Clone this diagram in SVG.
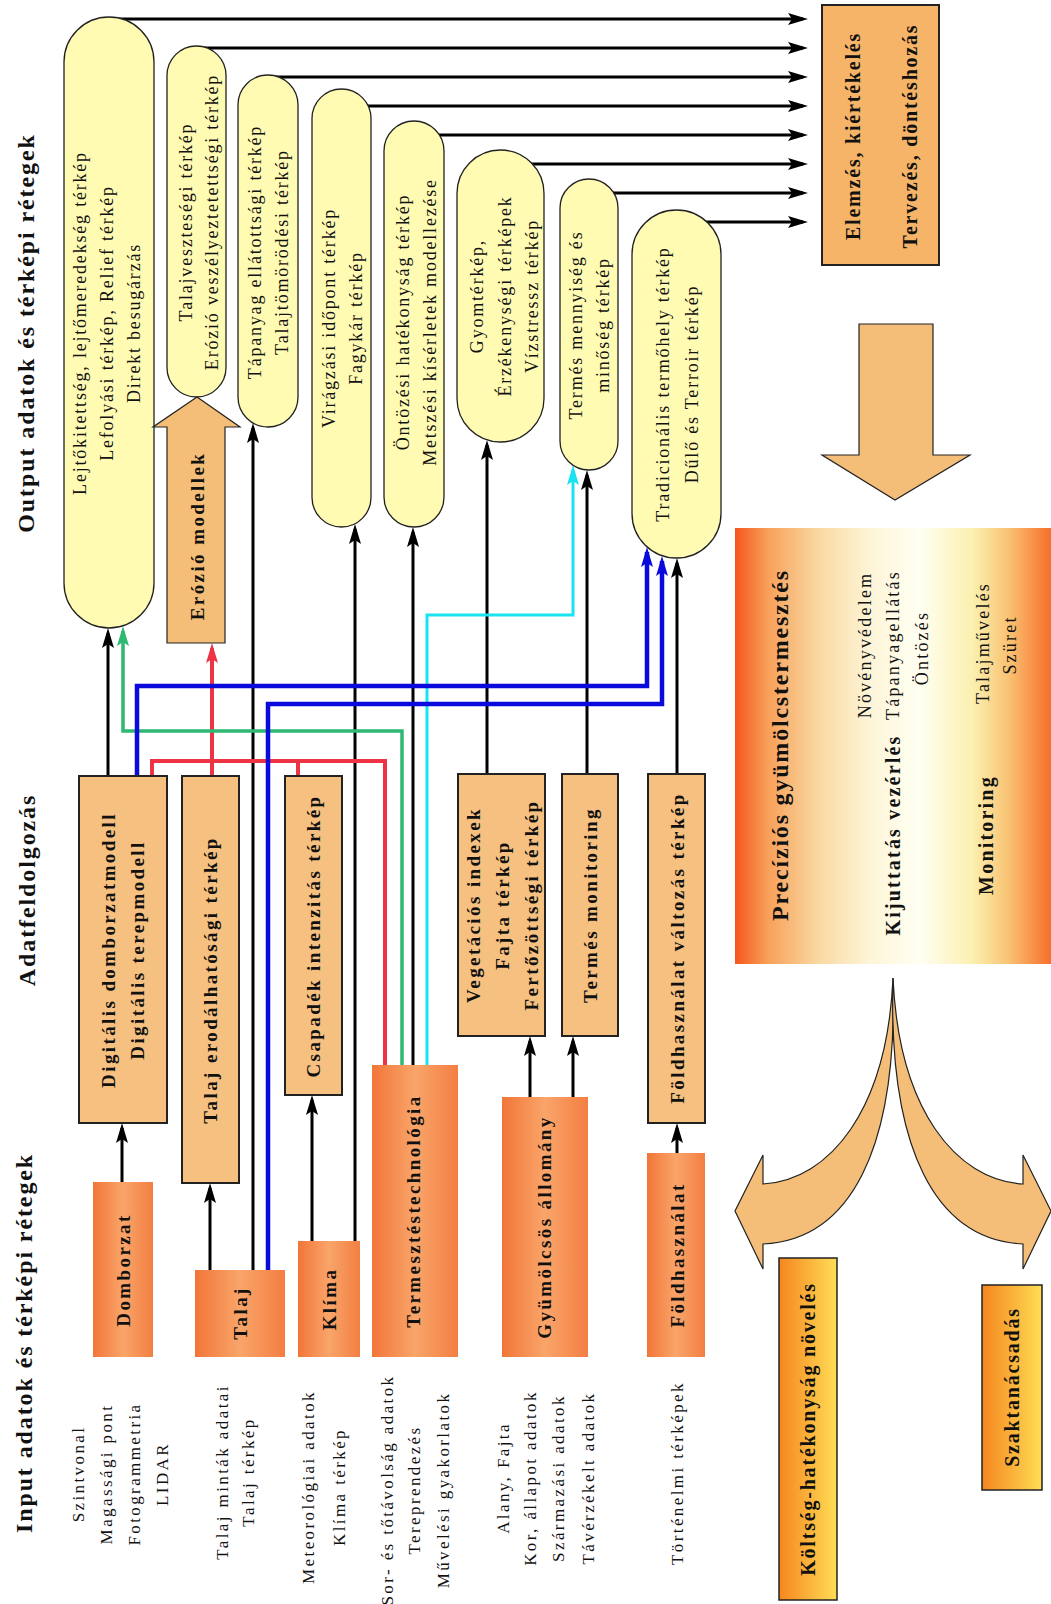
<svg xmlns="http://www.w3.org/2000/svg" width="1051" height="1604" viewBox="0 0 1051 1604">
<defs>
  <linearGradient id="gIn" x1="0" y1="0" x2="1" y2="0">
    <stop offset="0" stop-color="#F27538"/>
    <stop offset="0.5" stop-color="#F9A56A"/>
    <stop offset="1" stop-color="#F37E42"/>
  </linearGradient>
  <linearGradient id="gPrec" x1="0" y1="0" x2="1" y2="0">
    <stop offset="0" stop-color="#F4561C"/>
    <stop offset="0.1" stop-color="#F8A05A"/>
    <stop offset="0.25" stop-color="#F9D8A0"/>
    <stop offset="0.41" stop-color="#FDF5D8"/>
    <stop offset="0.56" stop-color="#FFFFF2"/>
    <stop offset="0.72" stop-color="#FBF0B0"/>
    <stop offset="0.83" stop-color="#F9C272"/>
    <stop offset="0.93" stop-color="#F7803A"/>
    <stop offset="1" stop-color="#F4561C"/>
  </linearGradient>
  <linearGradient id="gGoal" x1="0" y1="0" x2="1" y2="0">
    <stop offset="0" stop-color="#F5861F"/>
    <stop offset="1" stop-color="#FFDD55"/>
  </linearGradient>
  <marker id="ahK" viewBox="0 0 20 12" refX="15" refY="6" markerWidth="20" markerHeight="12" markerUnits="userSpaceOnUse" orient="auto"><path d="M0,0 L20,6 L0,12 L4,6Z" fill="#000"/></marker>
  <marker id="ahB" viewBox="0 0 20 12" refX="15" refY="6" markerWidth="20" markerHeight="13" markerUnits="userSpaceOnUse" orient="auto"><path d="M0,0 L20,6 L0,12 L4,6Z" fill="#0A0ADC"/></marker>
  <marker id="ahG" viewBox="0 0 20 12" refX="15" refY="6" markerWidth="20" markerHeight="12" markerUnits="userSpaceOnUse" orient="auto"><path d="M0,0 L20,6 L0,12 L4,6Z" fill="#2EB872"/></marker>
  <marker id="ahR" viewBox="0 0 20 12" refX="15" refY="6" markerWidth="20" markerHeight="12" markerUnits="userSpaceOnUse" orient="auto"><path d="M0,0 L20,6 L0,12 L4,6Z" fill="#EE3344"/></marker>
  <marker id="ahC" viewBox="0 0 20 12" refX="15" refY="6" markerWidth="20" markerHeight="12" markerUnits="userSpaceOnUse" orient="auto"><path d="M0,0 L20,6 L0,12 L4,6Z" fill="#19E3F0"/></marker>
</defs>
<style>
  text { font-family: "Liberation Serif", "Times New Roman", serif; fill: #111; text-anchor: middle; dominant-baseline: central; }
  .ti { font-size: 24px; font-weight: bold; letter-spacing: 1.9px; }
  .ct { font-size: 18px; letter-spacing: 1.8px; }
  .bt { font-size: 19px; font-weight: bold; letter-spacing: 2.4px; }
  .lt { font-size: 17px; letter-spacing: 2.4px; }
  .pt { font-size: 24px; font-weight: bold; letter-spacing: 1.8px; }
  .ps { font-size: 20px; font-weight: bold; letter-spacing: 2.2px; }
  .pn { font-size: 18px; letter-spacing: 2.2px; }
  .et { font-size: 20px; font-weight: bold; letter-spacing: 1.8px; }
  .cap { fill: #FFFBB3; stroke: #222; stroke-width: 1.3; }
  .proc { fill: #F6C080; stroke: #222; stroke-width: 2; }
  .inp { fill: url(#gIn); }
  .goal { fill: url(#gGoal); stroke: #222; stroke-width: 1.5; }
  .blk { fill: #F5BE78; stroke: #222; stroke-width: 1.2; }
  .k { fill: none; stroke: #000; stroke-width: 3; marker-end: url(#ahK); }
  .kl { fill: none; stroke: #000; stroke-width: 3; }
  .b { fill: none; stroke: #0A0ADC; stroke-width: 4.5; marker-end: url(#ahB); }
  .g { fill: none; stroke: #2EB872; stroke-width: 3.5; marker-end: url(#ahG); }
  .r { fill: none; stroke: #EE3344; stroke-width: 4; }
  .ra { fill: none; stroke: #EE3344; stroke-width: 4; marker-end: url(#ahR); }
  .c { fill: none; stroke: #19E3F0; stroke-width: 3; marker-end: url(#ahC); }
</style>

<!-- column headings -->
<g id="headings">
  <text class="ti" transform="translate(26 333) rotate(-90)">Output adatok és térképi rétegek</text>
  <text class="ti" transform="translate(27 890) rotate(-90)">Adatfeldolgozás</text>
  <text class="ti" transform="translate(24 1343) rotate(-90)">Input adatok és térképi rétegek</text>
</g>

<!-- source descriptions -->
<g id="sources">
  <text class="lt" transform="translate(78 1474) rotate(-90)">Szintvonal</text>
  <text class="lt" transform="translate(106 1474) rotate(-90)">Magassági pont</text>
  <text class="lt" transform="translate(134 1474) rotate(-90)">Fotogrammetria</text>
  <text class="lt" transform="translate(162 1474) rotate(-90)">LIDAR</text>
  <text class="lt" transform="translate(222 1472) rotate(-90)">Talaj minták adatai</text>
  <text class="lt" transform="translate(248 1472) rotate(-90)">Talaj térkép</text>
  <text class="lt" transform="translate(308 1487) rotate(-90)">Meteorológiai adatok</text>
  <text class="lt" transform="translate(339 1487) rotate(-90)">Klíma térkép</text>
  <text class="lt" transform="translate(387 1490) rotate(-90)">Sor- és tőtávolság adatok</text>
  <text class="lt" transform="translate(414 1490) rotate(-90)">Tereprendezés</text>
  <text class="lt" transform="translate(443 1490) rotate(-90)">Művelési gyakorlatok</text>
  <text class="lt" transform="translate(503 1478) rotate(-90)">Alany, Fajta</text>
  <text class="lt" transform="translate(530 1478) rotate(-90)">Kor, állapot adatok</text>
  <text class="lt" transform="translate(558 1478) rotate(-90)">Származási adatok</text>
  <text class="lt" transform="translate(588 1478) rotate(-90)">Távérzékelt adatok</text>
  <text class="lt" transform="translate(677 1473) rotate(-90)">Történelmi térképek</text>
</g>

<!-- connectors -->
<g id="connectors">
  <!-- outputs to analysis -->
  <path class="k" d="M109,19 H803"/>
  <path class="k" d="M197,48 H803"/>
  <path class="k" d="M268,77 H803"/>
  <path class="k" d="M341,106 H803"/>
  <path class="k" d="M414,135 H803"/>
  <path class="k" d="M500,164 H803"/>
  <path class="k" d="M589,193 H803"/>
  <path class="k" d="M676,222 H803"/>
  <!-- processing to outputs -->
  <path class="k" d="M108,776 V633"/>
  <path class="k" d="M253,1270 V428"/>
  <path class="k" d="M355,1241 V529"/>
  <path class="k" d="M413,1065 V532"/>
  <path class="k" d="M487,774 V445"/>
  <path class="k" d="M587,774 V475"/>
  <path class="k" d="M677,774 V563"/>
  <!-- inputs to processing -->
  <path class="k" d="M122,1182 V1128"/>
  <path class="k" d="M210,1270 V1188"/>
  <path class="k" d="M312,1241 V1100"/>
  <path class="k" d="M530,1097 V1041"/>
  <path class="k" d="M573,1097 V1041"/>
  <path class="k" d="M677,1153 V1128"/>
  <!-- coloured links -->
  <path class="r" d="M152,776 V761 H385 V1065"/>
  <path class="r" d="M298,761 V776"/>
  <path class="ra" d="M212,776 V648"/>
  <path class="g" d="M402,1065 V731 H123 V631"/>
  <path class="c" d="M427,1065 V615 H573 V470"/>
  <path class="b" d="M137,776 V686 H647 V552"/>
  <path class="b" d="M268,1270 V704 H662 V561"/>
</g>

<!-- output layers -->
<g id="out-lejto">
  <rect class="cap" x="64" y="17" width="90" height="611" rx="45"/>
  <text class="ct" transform="translate(80 323) rotate(-90)">Lejtőkitettség, lejtőmeredekség térkép</text>
  <text class="ct" transform="translate(107 323) rotate(-90)">Lefolyási térkép, Relief térkép</text>
  <text class="ct" transform="translate(134 323) rotate(-90)">Direkt besugárzás</text>
</g>
<g id="out-erozio">
  <rect class="cap" x="167" y="46" width="59" height="351" rx="29.5"/>
  <text class="ct" transform="translate(186 222) rotate(-90)">Talajveszteségi térkép</text>
  <text class="ct" transform="translate(212 222) rotate(-90)">Erózió veszélyeztetettségi térkép</text>
</g>
<g id="out-tapanyag">
  <rect class="cap" x="238" y="75" width="60" height="352" rx="30"/>
  <text class="ct" transform="translate(255 252) rotate(-90)">Tápanyag ellátottsági térkép</text>
  <text class="ct" transform="translate(282 252) rotate(-90)">Talajtömörödési térkép</text>
</g>
<g id="out-viragzas">
  <rect class="cap" x="312" y="89" width="59" height="438" rx="29.5"/>
  <text class="ct" transform="translate(329 318) rotate(-90)">Virágzási időpont térkép</text>
  <text class="ct" transform="translate(356 318) rotate(-90)">Fagykár térkép</text>
</g>
<g id="out-ontozes">
  <rect class="cap" x="384" y="121" width="60" height="406" rx="30"/>
  <text class="ct" transform="translate(403 322) rotate(-90)">Öntözési hatékonyság térkép</text>
  <text class="ct" transform="translate(430 322) rotate(-90)">Metszési kísérletek modellezése</text>
</g>
<g id="out-gyom">
  <rect class="cap" x="457" y="150" width="87" height="292" rx="43.5"/>
  <text class="ct" transform="translate(477 296) rotate(-90)">Gyomtérkép,</text>
  <text class="ct" transform="translate(505 296) rotate(-90)">Érzékenységi térképek</text>
  <text class="ct" transform="translate(532 296) rotate(-90)">Vízstressz térkép</text>
</g>
<g id="out-termes">
  <rect class="cap" x="560" y="179" width="58" height="291" rx="29"/>
  <text class="ct" transform="translate(576 325) rotate(-90)">Termés mennyiség és</text>
  <text class="ct" transform="translate(603 325) rotate(-90)">minőség térkép</text>
</g>
<g id="out-tradicio">
  <rect class="cap" x="632" y="210" width="89" height="348" rx="44.5"/>
  <text class="ct" transform="translate(663 384) rotate(-90)">Tradicionális termőhely térkép</text>
  <text class="ct" transform="translate(692 384) rotate(-90)">Dűlő és Terroir térkép</text>
</g>

<!-- erosion model block arrow -->
<g id="erozio-modellek">
  <path class="blk" d="M167,643 V427 H153 L197,397 L240,427 H225 V643 Z"/>
  <text class="bt" transform="translate(197 536) rotate(-90)">Erózió modellek</text>
</g>

<!-- processing -->
<g id="proc-digitalis">
  <rect class="proc" x="79" y="776" width="88" height="347"/>
  <text class="bt" transform="translate(108 950) rotate(-90)">Digitális domborzatmodell</text>
  <text class="bt" transform="translate(137 950) rotate(-90)">Digitális terepmodell</text>
</g>
<g id="proc-talaj">
  <rect class="proc" x="182" y="776" width="57" height="407"/>
  <text class="bt" transform="translate(210 980) rotate(-90)">Talaj erodálhatósági térkép</text>
</g>
<g id="proc-csapadek">
  <rect class="proc" x="285" y="776" width="57" height="319"/>
  <text class="bt" transform="translate(313 936) rotate(-90)">Csapadék intenzitás térkép</text>
</g>
<g id="proc-vegetacio">
  <rect class="proc" x="458" y="774" width="87" height="262"/>
  <text class="bt" transform="translate(473 905) rotate(-90)">Vegetációs indexek</text>
  <text class="bt" transform="translate(502 905) rotate(-90)">Fajta térkép</text>
  <text class="bt" transform="translate(531 905) rotate(-90)">Fertőzöttségi térkép</text>
</g>
<g id="proc-termes">
  <rect class="proc" x="562" y="774" width="56" height="262"/>
  <text class="bt" transform="translate(590 905) rotate(-90)">Termés monitoring</text>
</g>
<g id="proc-foldhasznalat">
  <rect class="proc" x="648" y="774" width="57" height="349"/>
  <text class="bt" transform="translate(677 948) rotate(-90)">Földhasználat változás térkép</text>
</g>

<!-- inputs -->
<g id="in-domborzat">
  <rect class="inp" x="93" y="1182" width="60" height="175"/>
  <text class="bt" transform="translate(123 1270) rotate(-90)">Domborzat</text>
</g>
<g id="in-talaj">
  <rect class="inp" x="195" y="1270" width="90" height="87"/>
  <text class="bt" transform="translate(240 1313) rotate(-90)">Talaj</text>
</g>
<g id="in-klima">
  <rect class="inp" x="298" y="1241" width="62" height="116"/>
  <text class="bt" transform="translate(329 1299) rotate(-90)">Klíma</text>
</g>
<g id="in-termesztes">
  <rect class="inp" x="372" y="1065" width="86" height="292"/>
  <text class="bt" transform="translate(413 1211) rotate(-90)">Termesztéstechnológia</text>
</g>
<g id="in-gyumolcsos">
  <rect class="inp" x="502" y="1097" width="86" height="260"/>
  <text class="bt" transform="translate(544 1227) rotate(-90)">Gyümölcsös állomány</text>
</g>
<g id="in-foldhasznalat">
  <rect class="inp" x="647" y="1153" width="58" height="204"/>
  <text class="bt" transform="translate(677 1255) rotate(-90)">Földhasználat</text>
</g>

<!-- analysis / decision -->
<g id="elemzes">
  <rect x="822" y="5" width="117" height="260" fill="#F6B468" stroke="#222" stroke-width="2"/>
  <text class="et" transform="translate(853 136) rotate(-90)">Elemzés, kiértékelés</text>
  <text class="et" transform="translate(910 136) rotate(-90)">Tervezés, döntéshozás</text>
</g>
<g id="arrow-down">
  <path class="blk" d="M859,324 H933 V455 H970 L895,500 L822,455 H859 Z"/>
</g>

<!-- precision fruit growing -->
<g id="precizios">
  <rect x="735" y="528" width="330" height="436" fill="url(#gPrec)"/>
  <text class="pt" transform="translate(780 745) rotate(-90)">Precíziós gyümölcstermesztés</text>
  <text class="ps" transform="translate(893 835) rotate(-90)">Kijuttatás vezérlés</text>
  <text class="pn" transform="translate(865 645) rotate(-90)">Növényvédelem</text>
  <text class="pn" transform="translate(893 645) rotate(-90)">Tápanyagellátás</text>
  <text class="pn" transform="translate(922 648) rotate(-90)">Öntözés</text>
  <text class="ps" transform="translate(986 835) rotate(-90)">Monitoring</text>
  <text class="pn" transform="translate(983 643) rotate(-90)">Talajművelés</text>
  <text class="pn" transform="translate(1010 645) rotate(-90)">Szüret</text>
</g>

<!-- split arrows toward the benefits -->
<g id="split-arrows">
  <path class="blk" d="M893,978 C887,1110 830,1180 763,1184 L763,1155 L735,1211 L763,1269 L763,1244 C850,1240 898,1150 893,978 Z"/>
  <path class="blk" d="M893,978 C899,1110 956,1180 1023,1184 L1023,1155 L1051,1211 L1023,1269 L1023,1244 C936,1240 888,1150 893,978 Z"/>
</g>
<g id="koltseg">
  <rect class="goal" x="779" y="1258" width="58" height="342"/>
  <text class="et" transform="translate(808 1429) rotate(-90)">Költség-hatékonyság növelés</text>
</g>
<g id="szaktanacsadas">
  <rect class="goal" x="982" y="1285" width="60" height="205"/>
  <text class="et" transform="translate(1012 1387) rotate(-90)">Szaktanácsadás</text>
</g>
</svg>
